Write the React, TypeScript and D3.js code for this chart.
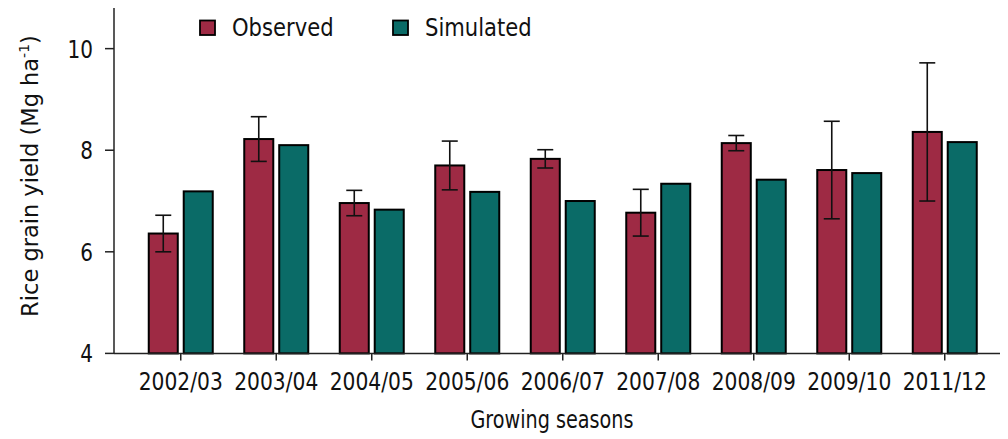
import React from "react";
import * as d3 from "d3";

const seasons = ["2002/03", "2003/04", "2004/05", "2005/06", "2006/07", "2007/08", "2008/09", "2009/10", "2011/12"];
const observed = [6.36, 8.22, 6.96, 7.70, 7.83, 6.77, 8.14, 7.61, 8.36];
const observedErr = [0.36, 0.44, 0.25, 0.48, 0.18, 0.46, 0.15, 0.96, 1.36];
const simulated = [7.19, 8.10, 6.83, 7.18, 7.00, 7.34, 7.42, 7.55, 8.16];
const yTicks = [4, 6, 8, 10];
const seriesNames = ["Observed", "Simulated"];
const seriesColors = ["#9E2A44", "#0A6B67"];

const W = 1008;
const H = 439;
const FONT = "DejaVu Sans, Verdana, sans-serif";

export default function App() {
  const x = d3.scaleBand<string>().domain(seasons).range([133, 992.5]).padding(0);
  const y = d3.scaleLinear().domain([4, 10.8]).range([353.4, 8]);
  const inner = d3.scaleBand<string>().domain(seriesNames).range([0, 64]).paddingInner(0.17);
  const cx = (s: string) => (x(s) as number) + x.bandwidth() / 2;
  const bw = inner.bandwidth();
  const axisColor = "#222";

  const sx = 0.8;

  return (
    <svg width={W} height={H} style={{ position: "absolute", left: 0, top: 0, background: "#fff" }}>
      {/* bars */}
      {seasons.map((s, i) => {
        const base = cx(s) - 32;
        return (
          <g key={s}>
            {[observed[i], simulated[i]].map((v, k) => (
              <rect
                key={k}
                x={base + (inner(seriesNames[k]) as number)}
                y={y(v)}
                width={bw}
                height={y(4) - y(v)}
                fill={seriesColors[k]}
                stroke="#000"
                strokeWidth={2}
              />
            ))}
          </g>
        );
      })}
      {/* error bars */}
      {seasons.map((s, i) => {
        const ex = cx(s) - 32 + (inner("Observed") as number) + bw / 2;
        const top = y(observed[i] + observedErr[i]);
        const bot = y(observed[i] - observedErr[i]);
        return (
          <g key={"e" + s} stroke="#111" strokeWidth={1.6}>
            <line x1={ex} x2={ex} y1={top} y2={bot} />
            <line x1={ex - 8} x2={ex + 8} y1={top} y2={top} />
            <line x1={ex - 8} x2={ex + 8} y1={bot} y2={bot} />
          </g>
        );
      })}
      {/* axes */}
      <line x1={114} x2={114} y1={8} y2={y(4)} stroke={axisColor} strokeWidth={1.5} />
      <line x1={114} x2={1000} y1={y(4)} y2={y(4)} stroke={axisColor} strokeWidth={1.5} />
      {yTicks.map((t) => (
        <g key={t}>
          <line x1={105} x2={114} y1={y(t)} y2={y(t)} stroke={axisColor} strokeWidth={1.5} />
          <text
            transform={`translate(93,${y(t) + 9}) scale(${sx},1)`}
            textAnchor="end"
            fontFamily={FONT}
            fontSize={25}
            fill="#111"
          >
            {t}
          </text>
        </g>
      ))}
      {seasons.map((s) => (
        <g key={"t" + s}>
          <line x1={cx(s)} x2={cx(s)} y1={y(4)} y2={y(4) + 7} stroke={axisColor} strokeWidth={1.5} />
          <text
            transform={`translate(${cx(s)},${y(4) + 37}) scale(0.81,1)`}
            textAnchor="middle"
            fontFamily={FONT}
            fontSize={25}
            fill="#111"
          >
            {s}
          </text>
        </g>
      ))}
      {/* axis titles */}
      <text
        transform={`translate(552,428) scale(${sx},1)`}
        textAnchor="middle"
        fontFamily={FONT}
        fontSize={24}
        fill="#111"
      >
        Growing seasons
      </text>
      <text
        transform={`translate(37.5,176) rotate(-90)`}
        textAnchor="middle"
        fontFamily={FONT}
        fontSize={22.5}
        fill="#111"
      >
        Rice grain yield (Mg ha<tspan dy={-9} fontSize={14}>-1</tspan>
        <tspan dy={9}>)</tspan>
      </text>
      {/* legend */}
      {seriesNames.map((n, k) => {
        const lx = [200, 393][k];
        return (
          <g key={n}>
            <rect x={lx} y={20.5} width={15} height={14.5} fill={seriesColors[k]} stroke="#000" strokeWidth={1.8} />
            <text
              transform={`translate(${lx + 32},36) scale(0.88,1)`}
              fontFamily={FONT}
              fontSize={24}
              fill="#111"
            >
              {n}
            </text>
          </g>
        );
      })}
    </svg>
  );
}
